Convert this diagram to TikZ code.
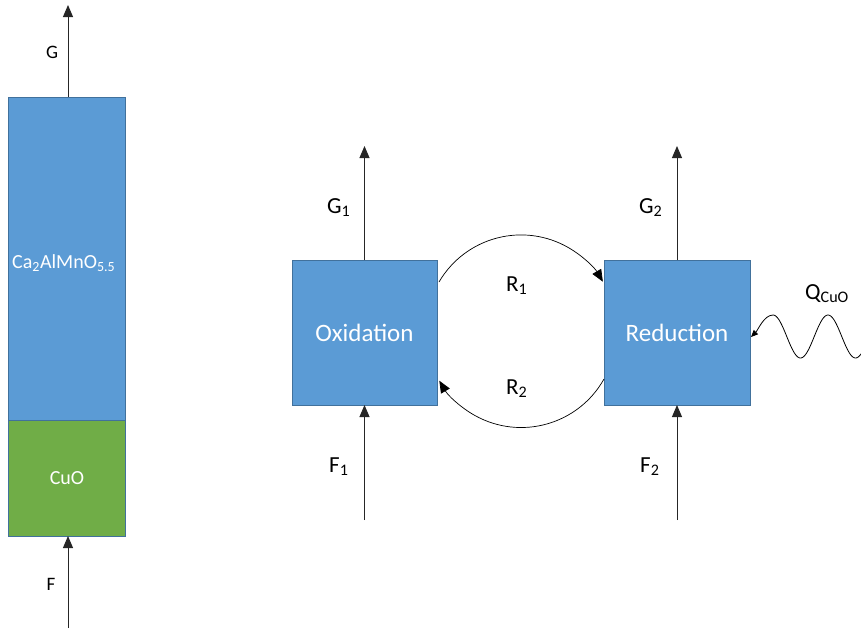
\documentclass[tikz,border=0pt]{standalone}
\usepackage{fontspec}
\setmainfont{Carlito}
\usetikzlibrary{arrows.meta,calc}
\definecolor{boxblue}{HTML}{5B9BD5}
\definecolor{boxgreen}{HTML}{70AD47}
\definecolor{boxline}{HTML}{41719C}
\definecolor{lineclr}{HTML}{262626}
\begin{document}
\begin{tikzpicture}[x=1pt,y=-1pt,
  block/.style={draw=boxline,line width=0.8pt,inner sep=0pt,outer sep=0pt,text=white},
  flow/.style={draw=lineclr,line width=1pt,-{Triangle[length=12pt,width=10pt]}},
  recyc/.style={draw=black,line width=0.7pt,-{Triangle[length=12pt,width=10pt]}},
  lbl/.style={inner sep=0pt,anchor=base west,font=\fontsize{23}{27}\selectfont},
  slbl/.style={inner sep=0pt,font=\fontsize{19}{22}\selectfont}]
\useasboundingbox (0,0) rectangle (861,630);
% left column
\node[block,fill=boxblue,minimum width=117pt,minimum height=323pt] (ca) at (67,258.5) {};
\node[block,fill=boxgreen,minimum width=117pt,minimum height=116pt] (cu) at (67,478) {\fontsize{20}{24}\selectfont CuO};
\node[inner sep=0pt,anchor=base west,text=white,font=\fontsize{20}{24}\selectfont] (calbl) at (12,268) {Ca\textsubscript{2}AlMnO\textsubscript{5.5}};
\coordinate (gtop) at (68,5);
\coordinate (fbot) at (68,628);
\draw[flow] ([xshift=1pt]ca.north) -- (gtop);
\draw[flow] (fbot) -- ([xshift=1pt]cu.south);
\node[slbl] (glbl) at (52,52) {G};
\node[slbl] (flbl) at (51,584) {F};
% reactors
\node[block,fill=boxblue,minimum width=145pt,minimum height=145pt,font=\fontsize{25}{30}\selectfont] (ox) at (364.5,332.5) {Oxidation};
\node[block,fill=boxblue,minimum width=146pt,minimum height=145pt,font=\fontsize{25}{30}\selectfont] (red) at (677,332.5) {Reduction};
\coordinate (g1top) at (364.5,146);
\coordinate (f1bot) at (364.5,520);
\coordinate (g2top) at (677,146);
\coordinate (f2bot) at (677,520);
\draw[flow] (ox.north) -- (g1top);
\draw[flow] (f1bot) -- (ox.south);
\draw[flow] (red.north) -- (g2top);
\draw[flow] (f2bot) -- (red.south);
\node[lbl] (g1lbl) at (327,213) {G\textsubscript{1}};
\node[lbl] (g2lbl) at (639,213) {G\textsubscript{2}};
\node[lbl] (f1lbl) at (329,472) {F\textsubscript{1}};
\node[lbl] (f2lbl) at (640,472) {F\textsubscript{2}};
% recycle arcs
\draw[recyc] ([xshift=2pt,yshift=50.5pt]ox.east) arc[start angle=149.7,end angle=30.5,radius=95pt];
\draw[recyc] ([yshift=-46.5pt]red.west) arc[start angle=-29.3,end angle=-149.5,radius=95pt];
\node[lbl] (r1lbl) at (506,291) {R\textsubscript{1}};
\node[lbl] (r2lbl) at (506,394) {R\textsubscript{2}};
% heat input
\coordinate (qtip) at ($(red.east)+(1,4.5)$);
\draw[line width=0.8pt,-{Triangle[length=7pt,width=6pt]}] plot[domain=861:773,samples=90,smooth] (\x,{336.5-21.5*cos(6.5455*(\x-773))}) .. controls (764,315) and (758,330) .. (qtip);
\node[lbl] (qlbl) at (805,299) {Q\textsubscript{CuO}};
\end{tikzpicture}
\end{document}
